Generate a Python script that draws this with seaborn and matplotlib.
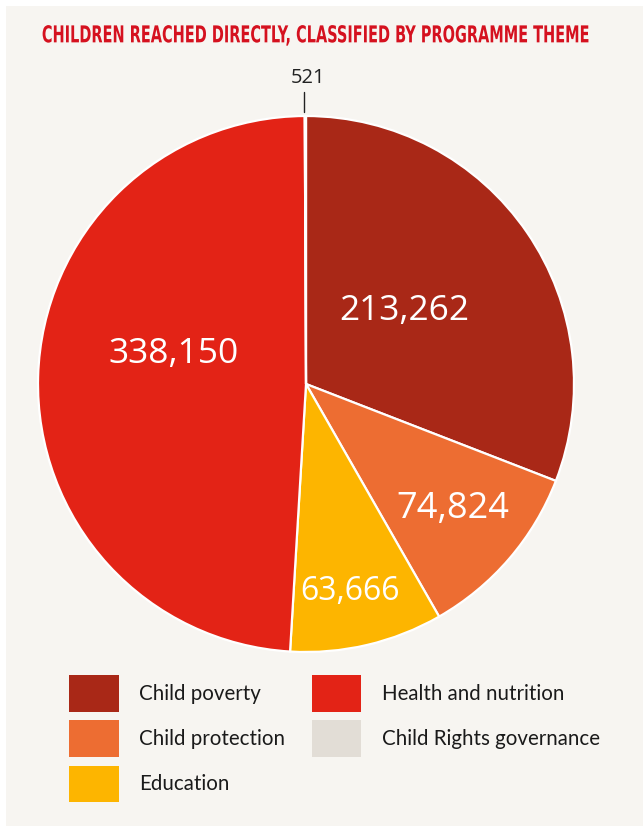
import numpy as np
import matplotlib
matplotlib.use("Agg")
import matplotlib.pyplot as plt
import matplotlib.patches as mpatches
import matplotlib.patheffects as pe
from matplotlib.transforms import Affine2D
import seaborn as sns

# Children reached directly, by programme theme
themes = ["Child poverty", "Child protection", "Education",
          "Health and nutrition", "Child Rights governance"]
children = [213262, 74824, 63666, 338150, 521]
theme_colors = ["#a92817", "#ed6d32", "#fdb500", "#e32316", "#e2ddd6"]

title_text = "CHILDREN REACHED DIRECTLY, CLASSIFIED BY PROGRAMME THEME"


class Stretch(pe.AbstractPathEffect):
    """Draw a text path rescaled about a fixed display point (x0, y0)."""

    def __init__(self, sx, sy, x0, y0):
        super().__init__()
        self.sx, self.sy, self.x0, self.y0 = sx, sy, x0, y0

    def draw_path(self, renderer, gc, tpath, affine, rgbFace=None):
        st = (Affine2D().translate(-self.x0, -self.y0)
              .scale(self.sx, self.sy).translate(self.x0, self.y0))
        renderer.draw_path(gc, tpath, affine + st, rgbFace)


sns.set_theme(style="white")
plt.rcParams["font.family"] = ["Lato", "DejaVu Sans"]

W, H = 643, 826
fig = plt.figure(figsize=(W / 100, H / 100), dpi=100, facecolor="#f7f5f1")

# thin white margin along the top and left edges
for xy, w, h in [((0, 1 - 6 / H), 1, 6 / H), ((0, 0), 6 / W, 1)]:
    fig.patches.append(mpatches.Rectangle(xy, w, h, transform=fig.transFigure,
                                          facecolor="white", edgecolor="none"))

# condensed headline
title_x, title_y = 316, 36
fig.text(title_x / W, 1 - title_y / H, title_text, ha="center", va="center",
         color="#d5111f", fontsize=13.2, fontweight="bold",
         fontstretch="condensed", family=["DejaVu Sans"],
         path_effects=[Stretch(0.88, 1.27, title_x, H - title_y)])

# pie axes: centre (306, 384), radius 268 px
cx, cy, R = 306, 384, 268
ax = fig.add_axes([(cx - R) / W, (H - cy - R) / H, 2 * R / W, 2 * R / H])
palette = sns.color_palette(theme_colors)
wedges, _ = ax.pie(children, colors=palette, startangle=90, counterclock=False,
                   radius=1, wedgeprops=dict(edgecolor="white", linewidth=1.6))
ax.set_xlim(-1, 1)
ax.set_ylim(-1, 1)
ax.set_aspect("auto")
ax.axis("off")

# value labels inside wedges: (radius fraction, angle offset deg, font size)
label_place = [(0.456, 2.3, 25.5), (0.72, 0.5, 26), (0.79, -1.2, 23), (0.5056, -11.4, 25.5)]
for w, v, (r, off, fs) in zip(wedges, children, label_place):
    ang = np.deg2rad((w.theta1 + w.theta2) / 2 + off)
    ax.text(r * np.cos(ang), r * np.sin(ang), f"{v:,}", ha="center", va="center",
            color="white", fontsize=fs, family=["Open Sans", "DejaVu Sans"])

# small slice: callout above the pie
w = wedges[4]
ang = np.deg2rad((w.theta1 + w.theta2) / 2 + 0.2)
ax.plot([1.015 * np.cos(ang), 1.015 * np.cos(ang)], [1.015, 1.09],
        color="#222222", lw=1.0, clip_on=False)
ax.text(0.006, 1.14, f"{children[4]:,}", ha="center", va="center",
        color="#222222", fontsize=14.5, family=["Open Sans", "DejaVu Sans"],
        clip_on=False)

# legend
handles = [mpatches.Patch(facecolor=c, edgecolor="none", label=t)
           for t, c in zip(themes, palette)]
leg = fig.legend(handles=handles, ncol=2, loc="upper left",
                 bbox_to_anchor=(61 / W, 1 - 667 / H), frameon=False,
                 fontsize=14.8, handlelength=2.4, handleheight=2.36,
                 handletextpad=1.0, columnspacing=1.3, labelspacing=0.42,
                 borderaxespad=0, labelcolor="#1a1a1a")

fig.savefig("out.png", dpi=100, facecolor=fig.get_facecolor())
